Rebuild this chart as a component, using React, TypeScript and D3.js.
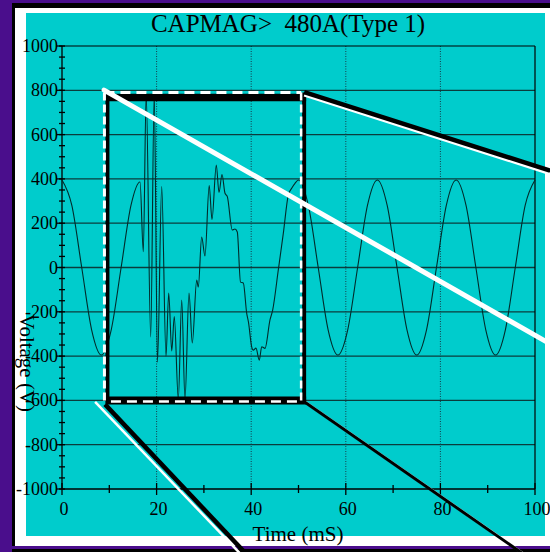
import React from "react";
import * as d3 from "d3";

// ---- data ----
const times = [
  0, 2.08, 4.17, 6.25, 8.33, 10.42, 12.5, 14.58,
  16.5, 17.19, 17.8, 18.75, 19.5, 20.19, 21.08, 21.99, 22.56, 23.2, 23.74, 24.59,
  25.31, 26.0, 26.85, 27.55, 28.48, 28.82, 29.53, 30.23, 31.12, 31.71, 32.62, 33.19,
  33.83, 34.46, 34.95, 36.0, 36.57, 37.06, 37.74, 38.33, 39.05, 39.43, 40.1, 40.44,
  41.01, 41.71, 42.22, 42.92, 43.97, 44.54, 45.73, 46.79, 47.84, 48.56, 49.26,
  50, 52.08, 54.17, 56.25, 58.33, 60.42, 62.5, 64.58, 66.67, 68.75, 70.83, 72.92,
  75, 77.08, 79.17, 81.25, 83.33, 85.42, 87.5, 89.58, 91.67, 93.75, 95.83, 97.92, 100,
];
const volts = [
  395, 280, 0, -280, -395, -280, 0, 280,
  386, 71, 785, -314, 785, -427, 365, -400, -115, -377, -222, -595,
  -147, -595, -115, -341, -57, -88, 138, 52, 370, 217, 463, 339,
  420, 335, 320, 169, 174, 160, -66, -70, -207, -248, -358, -373,
  -364, -418, -358, -365, -237, -192, -11, 154, 327, 358, 380,
  395, 280, 0, -280, -395, -280, 0, 280, 395, 280, 0, -280,
  -395, -280, 0, 280, 395, 280, 0, -280, -395, -280, 0, 280, 395,
];

const xTickValues = [0, 20, 40, 60, 80, 100];
const xTickLabels = ["0", "20", "40", "60", "80", "100"];
const xMinorTicks = [10, 30, 50, 70, 90];
const xGridValues = [20, 40, 60, 80];
const yTickValues = [1000, 800, 600, 400, 200, 0, -200, -400, -600, -800, -1000];
const yTickLabels = ["1000", "800", "600", "400", "200", "0", "-200", "-400", "-600", "-800", "-1000"];
const yGridValues = [800, 600, 400, 200, 0, -200, -400, -600, -800];
const yMinorTicks = d3.range(-1000, 1001, 50);

const title = "CAPMAG>  480A(Type 1)";
const xLabel = "Time (mS)";
const yLabel = "Voltage (V)";

// zoom box (data coordinates)
const zoomT = [9.5, 51.4];
const zoomV = [-600, 790];

export default function App() {
  const x = d3.scaleLinear().domain([0, 100]).range([62, 535]);
  const y = d3.scaleLinear().domain([-1000, 1000]).range([489, 46]);

  const pts: [number, number][] = times.map((t, i) => [t, volts[i]]);
  const line = d3
    .line<[number, number]>()
    .x((d) => x(d[0]))
    .y((d) => y(d[1]))
    .curve(d3.curveMonotoneX);

  const bx0 = x(zoomT[0]);
  const bx1 = x(zoomT[1]);
  const by0 = y(zoomV[1]);
  const by1 = y(zoomV[0]);

  const font = "'Liberation Serif', 'Times New Roman', serif";
  const gridCol = "#0b3c3c";

  // magnifier line endpoints (data coords, extrapolated past the plot)
  const l1 = [x(8.9), y(801), x(103.2), y(-345)];
  const l2 = [x(51.2), y(792), x(103.2), y(437)];
  const l3w = [x(7.0), y(-607), x(37.6), y(-1290)];
  const l3b = [x(9.1), y(-618), x(38.8), y(-1290)];
  const l4 = [x(51.0), y(-603), x(97.3), y(-1290)];

  return (
    <svg
      width={550}
      height={552}
      style={{ position: "absolute", left: 0, top: 0 }}
      fontFamily={font}
    >
      {/* frame */}
      <rect x={0} y={0} width={550} height={552} fill="#4a0e8c" />
      <rect x={12} y={3} width={538} height={549} fill="#000" />
      <rect x={12} y={546} width={538} height={3} fill="#4a0e8c" />
      <rect x={15} y={8} width={535} height={538} fill="#fff" />
      <rect x={26} y={13} width={519} height={523} fill="#00cccc" />

      {/* title */}
      <text x={288} y={32} fontSize={25} textAnchor="middle" fill="#000" style={{ whiteSpace: "pre" }}>
        {title}
      </text>

      {/* grid */}
      {yGridValues.map((v) => (
        <line key={"gy" + v} x1={x(0)} x2={x(100)} y1={y(v)} y2={y(v)} stroke={gridCol} strokeWidth={1.3} />
      ))}
      {xGridValues.map((t) => (
        <line
          key={"gx" + t}
          x1={x(t)}
          x2={x(t)}
          y1={y(1000)}
          y2={y(-1000)}
          stroke="#163c4c"
          strokeWidth={1}
          strokeDasharray="1,1.5"
        />
      ))}

      {/* plot frame top/right */}
      <line x1={x(0)} x2={x(100)} y1={y(1000)} y2={y(1000)} stroke="#000" strokeWidth={1.2} />
      <line x1={x(100)} x2={x(100)} y1={y(1000)} y2={y(-1000)} stroke="#000" strokeWidth={1.2} />

      {/* y axis */}
      <line x1={x(0)} x2={x(0)} y1={y(1000)} y2={y(-1000)} stroke="#000" strokeWidth={1.3} />
      {yMinorTicks.map((v) => (
        <line key={"ym" + v} x1={x(0) - 3} x2={x(0) + 3} y1={y(v)} y2={y(v)} stroke="#000" strokeWidth={1.3} />
      ))}
      {yTickValues.map((v, i) => (
        <g key={"yt" + v}>
          <line x1={x(0) - 6} x2={x(0)} y1={y(v)} y2={y(v)} stroke="#000" strokeWidth={1.3} />
          <text x={58} y={y(v) + 6} fontSize={18} textAnchor="end" fill="#000">
            {yTickLabels[i]}
          </text>
        </g>
      ))}

      {/* x axis */}
      <line x1={x(0)} x2={x(100)} y1={y(-1000)} y2={y(-1000)} stroke="#000" strokeWidth={1.3} />
      {xMinorTicks.map((t) => (
        <line key={"xm" + t} x1={x(t)} x2={x(t)} y1={y(-1000) - 4} y2={y(-1000) + 4} stroke="#000" strokeWidth={1.3} />
      ))}
      {xTickValues.map((t, i) => (
        <g key={"xt" + t}>
          <line x1={x(t)} x2={x(t)} y1={y(-1000) - 6} y2={y(-1000) + 6} stroke="#000" strokeWidth={1.3} />
          <text x={x(t) + 2} y={515} fontSize={18} textAnchor="middle" fill="#000">
            {xTickLabels[i]}
          </text>
        </g>
      ))}

      {/* axis titles */}
      <text x={298} y={541} fontSize={21} textAnchor="middle" fill="#000">
        {xLabel}
      </text>
      <text transform={`translate(20,363) rotate(90)`} fontSize={21} textAnchor="middle" fill="#000">
        {yLabel}
      </text>

      {/* waveform */}
      <path d={line(pts) || ""} fill="none" stroke="#002b2b" strokeWidth={1.1} />

      {/* zoom box: black frame */}
      <line x1={bx0 - 1} x2={bx1 + 1} y1={by0 + 5} y2={by0 + 5} stroke="#000" strokeWidth={7.5} />
      <line x1={bx0 + 0.5} x2={bx0 + 0.5} y1={by0} y2={by1 + 3.5} stroke="#000" strokeWidth={4} />
      <line x1={bx1 - 1} x2={bx1 - 1} y1={by0} y2={by1 + 3.5} stroke="#000" strokeWidth={4} />
      <line x1={bx0 - 1} x2={bx1 + 1} y1={by1} y2={by1} stroke="#000" strokeWidth={8} />
      {/* white dashed */}
      <line x1={bx0 - 2.5} x2={bx1 - 4} y1={by0} y2={by0} stroke="#fff" strokeWidth={3} strokeDasharray="10,6" />
      <line x1={bx0 - 2.5} x2={bx0 - 2.5} y1={by0} y2={by1} stroke="#fff" strokeWidth={3} strokeDasharray="8,4" />
      <line x1={bx1 - 4} x2={bx1 - 4} y1={by0} y2={by1} stroke="#fff" strokeWidth={2.5} strokeDasharray="8,4" />
      <line x1={bx0 + 4} x2={bx1 - 4} y1={by1 + 1} y2={by1 + 1} stroke="#fff" strokeWidth={2.5} strokeDasharray="10,6" />

      {/* magnifier lines */}
      <line x1={l1[0]} y1={l1[1]} x2={l1[2]} y2={l1[3]} stroke="#fff" strokeWidth={5} strokeLinecap="round" />
      <line x1={l2[0]} y1={l2[1] + 3} x2={l2[2]} y2={l2[3] + 3} stroke="#fff" strokeWidth={3} />
      <line x1={l2[0]} y1={l2[1]} x2={l2[2]} y2={l2[3]} stroke="#000" strokeWidth={4.5} />
      <line x1={l3w[0]} y1={l3w[1]} x2={l3w[2]} y2={l3w[3]} stroke="#fff" strokeWidth={2.5} />
      <line x1={l3b[0]} y1={l3b[1]} x2={l3b[2]} y2={l3b[3]} stroke="#000" strokeWidth={4.5} />
      <line x1={l4[0] + 2} y1={l4[1] + 1} x2={l4[2] + 2} y2={l4[3] + 1} stroke="#fff" strokeWidth={2.5} />
      <line x1={l4[0]} y1={l4[1]} x2={l4[2]} y2={l4[3]} stroke="#000" strokeWidth={3} />
    </svg>
  );
}
